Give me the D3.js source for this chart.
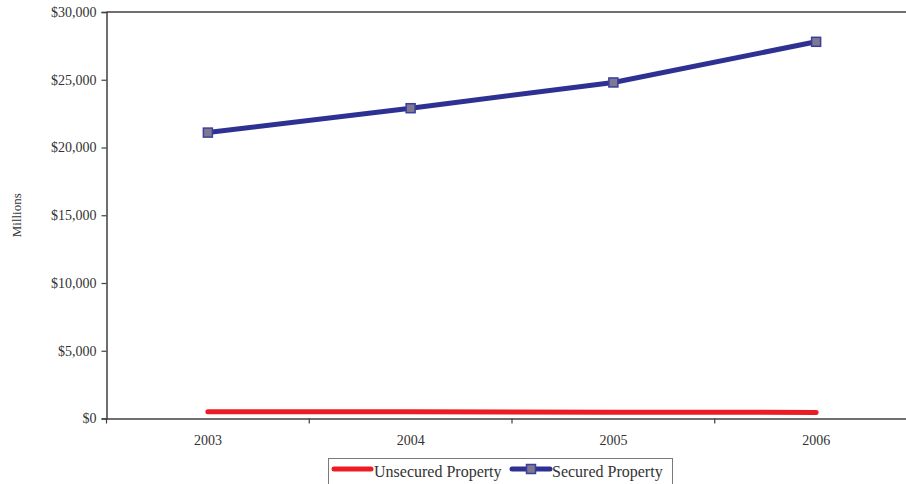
<!DOCTYPE html>
<html><head><meta charset="utf-8">
<script src="https://cdn.jsdelivr.net/npm/d3@7"></script>
<style>
html,body{margin:0;padding:0;background:#fff;}
svg{display:block;font-family:"Liberation Serif","Times New Roman",serif;}
</style></head>
<body>
<svg id="chart" width="906" height="484"></svg>
<script>
const years = ["2003","2004","2005","2006"];
const unsecured = [500, 500, 460, 450];
const secured = [21100, 22900, 24800, 27800];
const yTicks = [0, 5000, 10000, 15000, 20000, 25000, 30000];
const seriesNames = ["Unsecured Property", "Secured Property"];

const svg = d3.select("#chart");
const pLeft = 106.5, pRight = 917.5, pTop = 12, pBottom = 418.5;
const x = d3.scaleBand().domain(years).range([pLeft, pRight]).padding(0);
const y = d3.scaleLinear().domain([0, 30000]).range([pBottom, pTop]);
const axisColor = "#404040";

// top border
svg.append("line").attr("x1", pLeft).attr("x2", pRight).attr("y1", pTop).attr("y2", pTop)
  .attr("stroke", axisColor).attr("stroke-width", 1.5);

// y axis
const yAxis = svg.append("g").attr("transform", `translate(${pLeft},0)`)
  .call(d3.axisLeft(y).tickValues(yTicks).tickSize(5).tickPadding(5)
    .tickFormat(d => "$" + d3.format(",")(d)));
yAxis.select(".domain").attr("stroke", axisColor).attr("stroke-width", 1.5);
yAxis.selectAll(".tick line").attr("stroke", axisColor).attr("stroke-width", 1.2);
yAxis.selectAll("text").attr("font-size", 14).attr("fill", "#333")
  .attr("font-family", "Liberation Serif, serif");

// x axis
const xAxis = svg.append("g").attr("transform", `translate(0,${pBottom})`)
  .call(d3.axisBottom(x).tickSize(0).tickPadding(17));
xAxis.select(".domain").attr("stroke", axisColor).attr("stroke-width", 1.5);
xAxis.selectAll("text").attr("font-size", 14).attr("fill", "#333")
  .attr("font-family", "Liberation Serif, serif");
// boundary ticks between categories
const bounds = years.map(d => x(d)).concat([x(years[years.length-1]) + x.bandwidth()]);
svg.append("g").selectAll("line").data(bounds).join("line")
  .attr("x1", d => d).attr("x2", d => d).attr("y1", pBottom).attr("y2", pBottom + 5)
  .attr("stroke", axisColor).attr("stroke-width", 1.2);

// y title
svg.append("text").attr("transform", `translate(21,${(pTop+pBottom)/2}) rotate(-90)`)
  .attr("text-anchor", "middle").attr("font-size", 13).attr("fill", "#333")
  .text("Millions");

const cx = d => x(d) + x.bandwidth() / 2;
const line = d3.line().x((d, i) => cx(years[i])).y(d => y(d));

svg.append("path").datum(unsecured).attr("d", line).attr("fill", "none")
  .attr("stroke", "#ed1c24").attr("stroke-width", 5).attr("stroke-linecap", "round");

svg.append("path").datum(secured).attr("d", line).attr("fill", "none")
  .attr("stroke", "#2e3192").attr("stroke-width", 5).attr("stroke-linejoin", "round");

svg.append("g").selectAll("rect").data(secured).join("rect")
  .attr("x", (d, i) => cx(years[i]) - 4.5).attr("y", d => y(d) - 4.5)
  .attr("width", 9).attr("height", 9)
  .attr("fill", "#7f7890").attr("stroke", "#3a3f9e").attr("stroke-width", 1.5);

// legend
const lg = svg.append("g");
lg.append("rect").attr("x", 328.5).attr("y", 458.5).attr("width", 344).attr("height", 40)
  .attr("fill", "#fff").attr("stroke", "#7a7a7a").attr("stroke-width", 1);
lg.append("line").attr("x1", 334).attr("x2", 371).attr("y1", 469).attr("y2", 469)
  .attr("stroke", "#ed1c24").attr("stroke-width", 5).attr("stroke-linecap", "round");
lg.append("text").attr("x", 374).attr("y", 477).attr("font-size", 16).attr("fill", "#333")
  .text(seriesNames[0]);
lg.append("line").attr("x1", 512).attr("x2", 550).attr("y1", 469).attr("y2", 469)
  .attr("stroke", "#2e3192").attr("stroke-width", 5).attr("stroke-linecap", "round");
lg.append("rect").attr("x", 526.5).attr("y", 464.5).attr("width", 9).attr("height", 9)
  .attr("fill", "#7f7890").attr("stroke", "#3a3f9e").attr("stroke-width", 1.5);
lg.append("text").attr("x", 552).attr("y", 477).attr("font-size", 16).attr("fill", "#333")
  .text(seriesNames[1]);
</script>
</body></html>
